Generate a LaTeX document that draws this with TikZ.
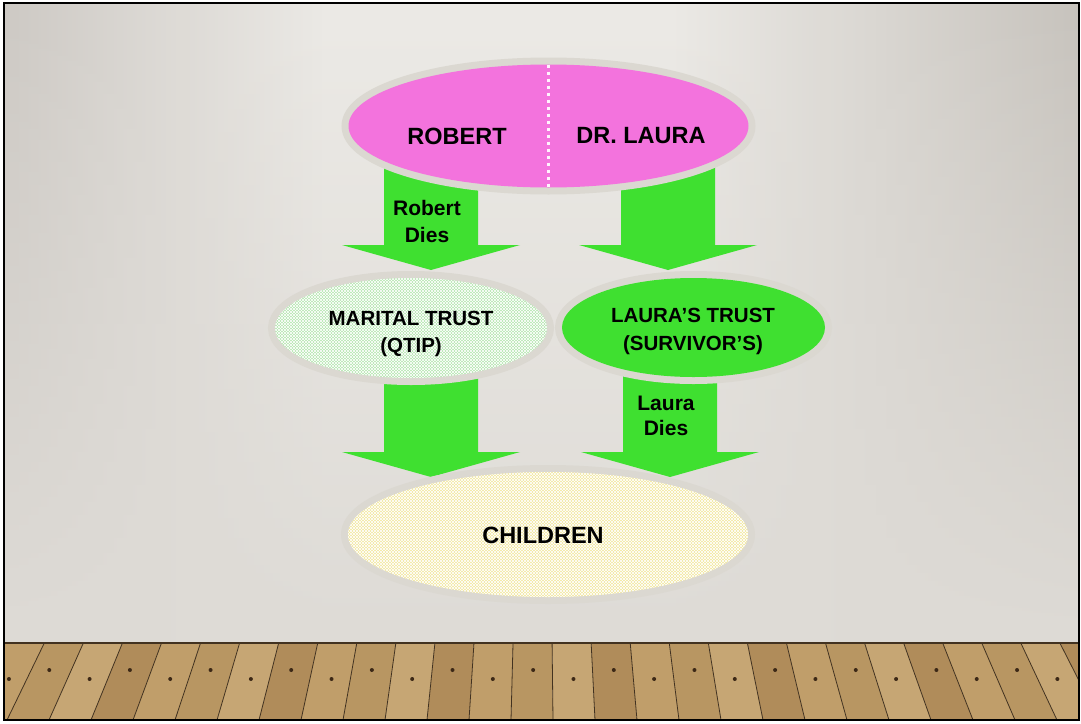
\documentclass[tikz,border=0pt]{standalone}
\usepackage{fontspec}
\setmainfont{Liberation Sans}
\usetikzlibrary{shapes.geometric,patterns,fadings}
\definecolor{wallbase}{RGB}{222,219,214}
\definecolor{walllight}{RGB}{236,234,230}
\definecolor{wallleft}{RGB}{205,201,196}
\definecolor{wallright}{RGB}{199,195,189}
\definecolor{halo}{RGB}{219,216,209}
\definecolor{couplepink}{RGB}{243,115,221}
\definecolor{flowgreen}{RGB}{63,224,48}
\definecolor{qtipgreen}{RGB}{180,230,175}
\definecolor{kidsyellow}{RGB}{243,232,158}
\definecolor{plank0}{RGB}{184,150,98}
\definecolor{plank1}{RGB}{198,166,116}
\definecolor{plank2}{RGB}{176,140,90}
\definecolor{plank3}{RGB}{192,158,106}
\definecolor{seam}{RGB}{66,50,32}
\definecolor{nail}{RGB}{60,40,22}
\pgfdeclarehorizontalshading{wallband}{100bp}{color(0bp)=(wallleft); color(25bp)=(wallleft);
  color(40bp)=(walllight); color(56bp)=(walllight); color(75bp)=(wallright); color(100bp)=(wallright)}
\tikzfading[name=walldown, top color=transparent!0, bottom color=transparent!100]
\tikzset{
  oval/.style   ={ellipse, inner sep=0pt, outer sep=0pt, preaction={draw=halo, line width=14pt}},
  hatched/.style={postaction={pattern=north east lines, pattern color=white},
                  postaction={pattern=north west lines, pattern color=white}},
  lbl/.style    ={inner sep=0pt, align=center, font=\fontsize{21}{27}\selectfont\bfseries},
  big/.style    ={font=\fontsize{23.5}{28}\selectfont\bfseries},
  flow/.style   ={fill=flowgreen},
  divider/.style={draw=white!92!couplepink, line width=2.5pt, dash pattern=on 3pt off 4pt},
  pics/blockarrow/.style={code={
    \fill[flow] (0,0) -- ++(89,-25) -- ++(-42,0) -- ++(0,-#1) -- ++(-94,0) -- ++(0,#1) -- ++(-42,0) -- cycle;}}
}
\begin{document}
\begin{tikzpicture}[x=1pt, y=-1pt]
\useasboundingbox[fill=white] (0,0) rectangle (1081,723);
% wall
\fill[wallbase] (4,3) rectangle (1079,643);
\shade[shading=wallband, path fading=walldown] (4,3) rectangle (1079,643);
% floor
\begin{scope}
\clip (4,643) rectangle (1079,720);
\foreach \i in {-2,...,26}{
  \pgfmathsetmacro\xa{7+42*\i}
  \pgfmathsetmacro\xb{49+42*\i}
  \pgfmathsetmacro\ta{540+(\xa-540)*0.93}
  \pgfmathsetmacro\tb{540+(\xb-540)*0.93}
  \pgfmathsetmacro\nx{\xa+(\ta-\xa)*0.57+21}
  \pgfmathtruncatemacro\c{mod(\i+8,4)}
  \pgfmathtruncatemacro\ny{670+9*mod(\i+8,2)}
  \fill[plank\c] (\xa,720) -- (\xb,720) -- (\tb,643) -- (\ta,643) -- cycle;
  \draw[seam, line width=0.8pt] (\xa,720) -- (\ta,643);
  \fill[nail] (\nx,\ny) circle (2pt);
}
\end{scope}
\draw[seam, line width=2.5pt] (4,643) -- (1079,643);
\draw[line width=2.5pt] (4,3) rectangle (1079,720);
% arrows
\coordinate (tipA) at (431,270);
\coordinate (tipB) at (668,270);
\coordinate (tipC) at (431,477);
\coordinate (tipD) at (670,477);
\pic at (tipA) {blockarrow=100};
\pic at (tipB) {blockarrow=100};
\pic at (tipC) {blockarrow=105};
\pic at (tipD) {blockarrow=105};
% ovals
\node[oval, fill=couplepink, minimum width=400pt, minimum height=123pt] (couple) at (548.5,126) {};
\draw[divider] (couple.north) -- (couple.south);
\node[oval, fill=qtipgreen, hatched, minimum width=272pt, minimum height=100pt] (marital) at (411,328) {};
\node[oval, fill=flowgreen, minimum width=263pt, minimum height=99pt] (survivor) at (693.5,327.5) {};
\node[oval, fill=kidsyellow, hatched, minimum width=400pt, minimum height=125pt] (children) at (548,534.5) {};
% labels
\node[lbl, big] (robert) at (457,136) {ROBERT};
\node[lbl, big] (drlaura) at (641,136) {DR. LAURA};
\node[lbl] (rdies) at (427,221.5) {Robert\\Dies};
\node[lbl, font=\fontsize{20.5}{27}\selectfont\bfseries] (qtip) at (411,333.5) {MARITAL TRUST\\(QTIP)};
\node[lbl, font=\fontsize{20.5}{28}\selectfont\bfseries] (ltrust) at (693,331) {LAURA’S TRUST\\(SURVIVOR’S)};
\node[lbl, font=\fontsize{21}{25}\selectfont\bfseries] (ldies) at (666,416) {Laura\\Dies};
\node[lbl, big] (kids) at (543,535) {CHILDREN};
\end{tikzpicture}
\end{document}
